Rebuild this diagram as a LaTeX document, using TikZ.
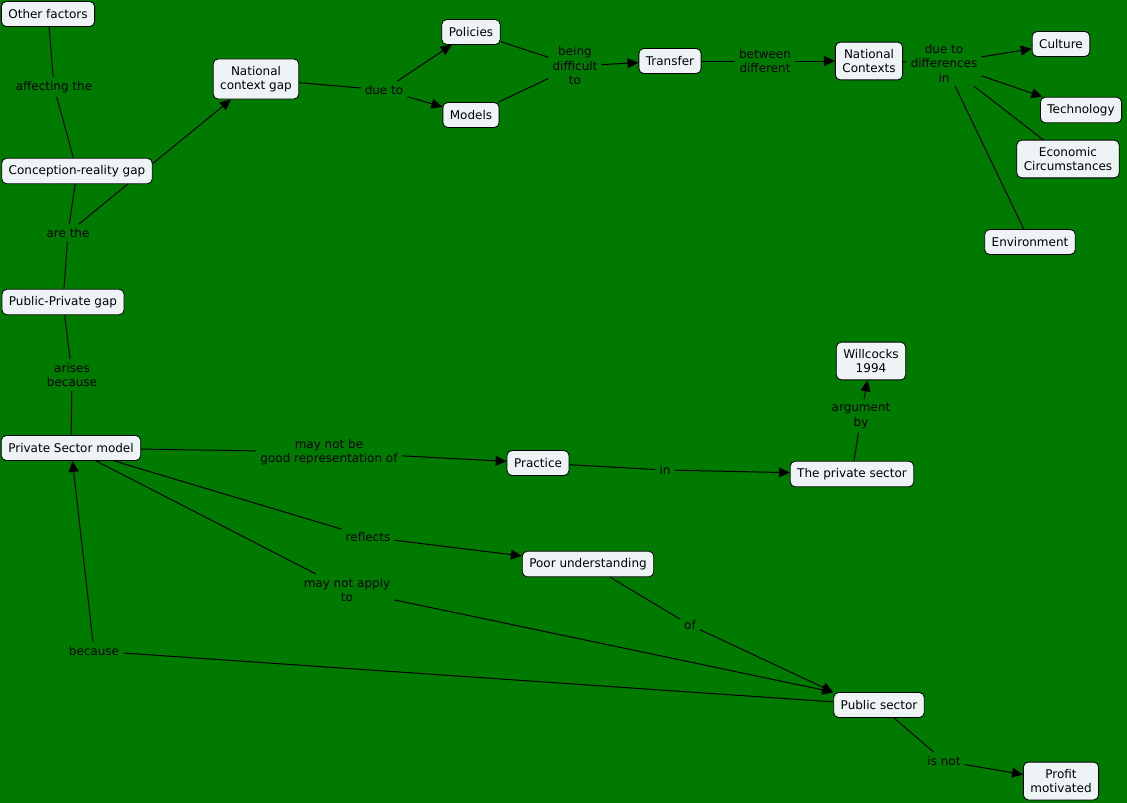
\documentclass[tikz,border=0pt]{standalone}
\usepackage{fontspec}
\setmainfont{DejaVu Sans}
\usetikzlibrary{arrows.meta}
\definecolor{mapgreen}{HTML}{007A00}
\definecolor{boxfill}{HTML}{EEF3F6}
\pgfdeclarelayer{back}
\pgfsetlayers{back,main}
\tikzset{
  conc/.style={draw=black,line width=0.8pt,rounded corners=5pt,fill=boxfill,align=center,inner xsep=7pt,inner ysep=7pt,minimum height=25pt,font=\fontsize{12}{14.5}\selectfont},
  lbl/.style={align=center,inner sep=4pt,font=\fontsize{12}{14.5}\selectfont},
  ln/.style={line width=1pt,black},
  ar/.style={ln,-{Triangle[length=11pt,width=10pt]}}
}
\begin{document}
\begin{tikzpicture}[x=1pt,y=-1pt]
\begin{pgfonlayer}{back}
\fill[mapgreen] (0,0) rectangle (1127,803);
\end{pgfonlayer}
% concepts
\node[conc] (other) at (48,14) {Other factors};
\node[conc] (crgap) at (77,171) {Conception-reality gap};
\node[conc] (ppgap) at (63,302) {Public-Private gap};
\node[conc] (psmodel) at (71,448) {Private Sector model};
\node[conc] (ncgap) at (256,79) {National\\context gap};
\node[conc] (policies) at (471,32) {Policies};
\node[conc] (models) at (471,115) {Models};
\node[conc] (transfer) at (670,61) {Transfer};
\node[conc] (ncont) at (869,61) {National\\Contexts};
\node[conc] (culture) at (1061,44) {Culture};
\node[conc] (tech) at (1081,110) {Technology};
\node[conc] (econ) at (1068,159) {Economic\\Circumstances};
\node[conc] (env) at (1030,242) {Environment};
\node[conc] (practice) at (538,463) {Practice};
\node[conc] (privsec) at (852,474) {The private sector};
\node[conc] (willc) at (871,361) {Willcocks\\1994};
\node[conc] (poor) at (588,564) {Poor understanding};
\node[conc] (pubsec) at (879,705) {Public sector};
\node[conc] (profit) at (1061,781) {Profit\\motivated};
% linking phrases
\node[lbl] (affect) at (54,87) {affecting the};
\node[lbl] (arethe) at (68,233) {are the};
\node[lbl] (arises) at (72,375) {arises\\because};
\node[lbl] (dueto) at (384,90) {due to};
\node[lbl] (beingd) at (575,66) {being\\difficult\\to};
\node[lbl] (between) at (765,61) {between\\different};
\node[lbl] (duediff) at (944,63) {due to\\differences\\in};
\node[lbl] (goodrep) at (329,452) {may not be\\good representation of};
\node[lbl] (inlbl) at (665,470) {in};
\node[lbl] (argby) at (861,416) {argument\\by};
\node[lbl] (reflects) at (368,537) {reflects};
\node[lbl] (notapply) at (347,590) {may not apply\\to};
\node[lbl] (oflbl) at (690,625) {of};
\node[lbl] (because) at (94,651) {because};
\node[lbl] (isnot) at (944,761) {is not};
\begin{pgfonlayer}{back}
\draw[ln] (other) -- (affect);
\draw[ln] (affect) -- (crgap);
\draw[ln] (crgap) -- (arethe);
\draw[ln] (ppgap) -- (arethe);
\draw[ar] (arethe) -- (ncgap);
\draw[ln] (ppgap) -- (arises);
\draw[ln] (arises) -- (psmodel);
\draw[ln] (ncgap) -- (dueto);
\draw[ar] (dueto) -- (policies);
\draw[ar] (dueto) -- (models);
\draw[ln] (policies) -- (beingd);
\draw[ln] (models) -- (beingd);
\draw[ar] (beingd) -- (transfer);
\draw[ln] (transfer) -- (between);
\draw[ar] (between) -- (ncont);
\draw[ln] (ncont) -- (duediff);
\draw[ar] (duediff) -- (culture);
\draw[ar] (duediff) -- (tech);
\draw[ln] (duediff) -- (econ);
\draw[ln] (duediff) -- (env);
\draw[ln] (psmodel) -- (goodrep);
\draw[ar] (goodrep) -- (practice);
\draw[ln] (practice) -- (inlbl);
\draw[ar] (inlbl) -- (privsec);
\draw[ln] (privsec) -- (argby);
\draw[ar] (argby) -- (willc);
\draw[ln] (psmodel) -- (reflects);
\draw[ar] (reflects) -- (poor);
\draw[ln] (psmodel) -- (notapply);
\draw[ar] (notapply) -- (pubsec.north west);
\draw[ln] (poor) -- (oflbl);
\draw[ar] (oflbl) -- (pubsec.north west);
\draw[ln] (pubsec) -- (because);
\draw[ar] (because) -- (psmodel);
\draw[ln] (pubsec) -- (isnot);
\draw[ar] (isnot) -- (profit);
\end{pgfonlayer}
\end{tikzpicture}
\end{document}
